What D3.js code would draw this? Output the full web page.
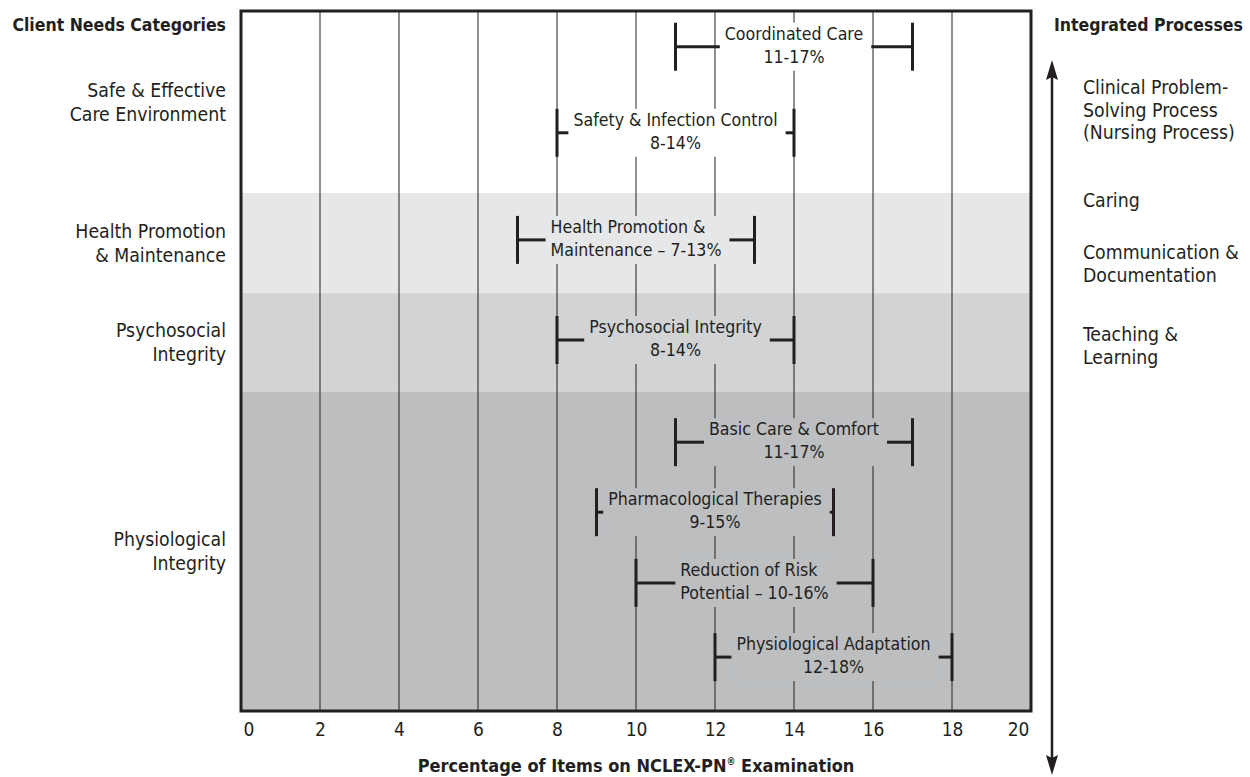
<!DOCTYPE html>
<html>
<head>
<meta charset="UTF-8">
<title>NCLEX-PN Client Needs Categories</title>
<script src="https://cdnjs.cloudflare.com/ajax/libs/d3/7.8.5/d3.min.js"></script>
<style>
body { margin:0; background:#fff; }
text { font-family:'DejaVu Sans Condensed','DejaVu Sans',sans-serif; font-stretch:condensed; fill:#231f20; }
.head { font-weight:bold; font-size:17.5px; }
.side { font-size:19.3px; }
.bar { font-size:17.6px; }
.tick text { font-size:19px; }
</style>
</head>
<body>
<div id="chart"></div>
<script>
// data
var xTicks = [0, 2, 4, 6, 8, 10, 12, 14, 16, 18, 20];
var categories = [["Safe & Effective", "Care Environment"], ["Health Promotion", "& Maintenance"], ["Psychosocial", "Integrity"], ["Physiological", "Integrity"]];
var bandEdges = [0, 26, 40.3, 54.4, 100]; // share of the vertical axis, top down
var barNames = [["Coordinated Care", "11-17%"], ["Safety & Infection Control", "8-14%"], ["Health Promotion &", "Maintenance \u2013 7-13%"], ["Psychosocial Integrity", "8-14%"], ["Basic Care & Comfort", "11-17%"], ["Pharmacological Therapies", "9-15%"], ["Reduction of Risk", "Potential \u2013 10-16%"], ["Physiological Adaptation", "12-18%"]];
var barLow = [11, 8, 7, 8, 11, 9, 10, 12];
var barHigh = [17, 14, 13, 14, 17, 15, 16, 18];
var barRow = [5.1, 17.4, 32.7, 47, 61.6, 71.6, 81.7, 92.3];
var processes = [["Clinical Problem-", "Solving Process", "(Nursing Process)"], ["Caring"], ["Communication &", "Documentation"], ["Teaching &", "Learning"]];

// layout / style
var width = 1250, height = 777;
var plot = {left:241, right:1031, top:11, bottom:711};
var bandColors = ["#ffffff", "#e6e7e8", "#d1d3d4", "#bcbec0"];
var leftAligned = [2, 6]; // bars whose two lines share a left edge
var procBase = [94, 207, 259, 341];
var ink = "#231f20";

var svg = d3.select("#chart").append("svg").attr("width", width).attr("height", height);

var x = d3.scaleLinear().domain([0, 20]).range([plot.left, plot.right]);
var y = d3.scaleLinear().domain([0, 100]).range([plot.top, plot.bottom]);

// background bands
var bands = d3.range(categories.length).map(function(i){ return {i:i, y0:bandEdges[i], y1:bandEdges[i+1]}; });
svg.selectAll("rect.band").data(bands).enter().append("rect")
  .attr("class", "band")
  .attr("x", x(0))
  .attr("width", x(20) - x(0))
  .attr("y", function(d){ return y(d.y0); })
  .attr("height", function(d){ return y(d.y1) - y(d.y0); })
  .attr("fill", function(d){ return bandColors[d.i]; });

// vertical grid
svg.selectAll("line.grid").data(xTicks.slice(1, -1)).enter().append("line")
  .attr("class", "grid")
  .attr("x1", function(d){ return x(d); })
  .attr("x2", function(d){ return x(d); })
  .attr("y1", plot.top)
  .attr("y2", plot.bottom)
  .attr("stroke", ink)
  .attr("stroke-width", 1);

// range bars
var bars = barNames.map(function(n, i){
  var band = 0;
  while (band < categories.length - 1 && barRow[i] > bandEdges[band+1]) band++;
  return {lines:n, lo:barLow[i], hi:barHigh[i], row:barRow[i], band:band, left:leftAligned.indexOf(i) >= 0};
});

var half = 24, padL = 5, padR = 8;
bars.forEach(function(d){
  var g = svg.append("g");
  var cy = y(d.row), mid = x((d.lo + d.hi) / 2);
  var bg = g.append("rect").attr("fill", bandColors[d.band]);
  var t = g.append("text").attr("class", "bar").attr("text-anchor", d.left ? "start" : "middle");
  t.selectAll("tspan").data(d.lines).enter().append("tspan")
    .attr("x", 0)
    .attr("y", function(s, k){ return cy - 7 + k * 23; })
    .text(function(s){ return s; });
  if (d.left) {
    var w = t.node().getBBox().width;
    t.selectAll("tspan").attr("x", mid - w / 2);
  } else {
    t.selectAll("tspan").attr("x", mid);
  }
  var bb = t.node().getBBox();
  var bx0 = bb.x - padL, bx1 = bb.x + bb.width + padR;
  bg.attr("x", bx0).attr("width", bx1 - bx0).attr("y", cy - half).attr("height", 2 * half);

  // whiskers
  [[x(d.lo), bx0], [bx1, x(d.hi)]].forEach(function(a){
    if (a[1] > a[0]) g.append("line").attr("x1", a[0]).attr("x2", a[1]).attr("y1", cy).attr("y2", cy)
      .attr("stroke", ink).attr("stroke-width", 3);
  });
  [d.lo, d.hi].forEach(function(v){
    g.append("line").attr("x1", x(v)).attr("x2", x(v)).attr("y1", cy - half).attr("y2", cy + half)
      .attr("stroke", ink).attr("stroke-width", 3);
  });
});

// frame
svg.append("rect")
  .attr("x", plot.left).attr("y", plot.top)
  .attr("width", plot.right - plot.left).attr("height", plot.bottom - plot.top)
  .attr("fill", "none").attr("stroke", ink).attr("stroke-width", 3);

// x axis labels
var axis = svg.append("g").attr("transform", "translate(0," + plot.bottom + ")")
  .call(d3.axisBottom(x).tickValues(xTicks).tickSize(0).tickPadding(12));
axis.select(".domain").remove();
axis.selectAll(".tick text").attr("fill", ink).style("font-family", null)
  .attr("text-anchor", function(d){ return d === 0 ? "start" : d === 20 ? "end" : "middle"; })
  .attr("dx", function(d){ return d === 0 ? 2 : d === 20 ? -2 : 0; });

var title = svg.append("text").attr("class", "head")
  .attr("x", (plot.left + plot.right) / 2).attr("y", 772)
  .attr("text-anchor", "middle").style("font-size", "18px");
title.append("tspan").text("Percentage of Items on NCLEX-PN");
title.append("tspan").text("\u00ae").style("font-size", "10px").attr("dy", -7);
title.append("tspan").text(" Examination").attr("dy", 7);

// left: categories
svg.append("text").attr("class", "head").attr("x", 226).attr("y", 31).attr("text-anchor", "end").text("Client Needs Categories");
svg.selectAll("text.side-left").data(bands).enter().append("text")
  .attr("class", "side side-left")
  .attr("text-anchor", "end")
  .each(function(d){
    var c = (y(d.y0) + y(d.y1)) / 2;
    d3.select(this).selectAll("tspan").data(categories[d.i]).enter().append("tspan")
      .attr("x", 226)
      .attr("y", function(s, k){ return c - 5 + k * 24; })
      .text(function(s){ return s; });
  });

// right: integrated processes
svg.append("text").attr("class", "head").attr("x", 1054).attr("y", 31).text("Integrated Processes");

var defs = svg.append("defs");
defs.append("marker").attr("id", "head")
  .attr("viewBox", "0 0 20 12").attr("refX", 8).attr("refY", 6)
  .attr("markerWidth", 20).attr("markerHeight", 12)
  .attr("markerUnits", "userSpaceOnUse").attr("orient", "auto-start-reverse")
  .append("path").attr("d", "M0,0L20,6L0,12L3,6Z").attr("fill", ink);
svg.append("line")
  .attr("x1", 1052).attr("x2", 1052).attr("y1", 72).attr("y2", 763)
  .attr("stroke", ink).attr("stroke-width", 2.5)
  .attr("marker-start", "url(#head)").attr("marker-end", "url(#head)");

processes.forEach(function(p, i){
  var t = svg.append("text").attr("class", "side");
  t.selectAll("tspan").data(p).enter().append("tspan")
    .attr("x", 1083)
    .attr("y", function(s, k){ return procBase[i] + k * 22.5; })
    .text(function(s){ return s; });
});
</script>
</body>
</html>
